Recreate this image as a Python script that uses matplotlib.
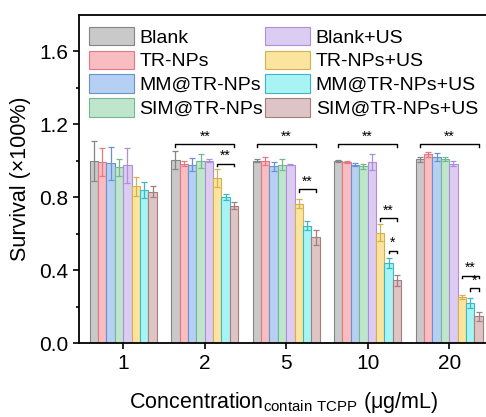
import matplotlib.pyplot as plt
import numpy as np

plt.rcParams['font.family'] = ['Liberation Sans', 'DejaVu Sans']

concs = ['1', '2', '5', '10', '20']
groups = ['Blank', 'TR-NPs', 'MM@TR-NPs', 'SIM@TR-NPs',
          'Blank+US', 'TR-NPs+US', 'MM@TR-NPs+US', 'SIM@TR-NPs+US']

blank = [1.00, 1.005, 1.00, 1.00, 1.008]
tr = [0.993, 0.985, 1.00, 0.995, 1.035]
mm = [0.986, 0.98, 0.97, 0.98, 1.02]
sim = [0.964, 1.00, 0.98, 0.97, 1.01]
blank_us = [0.975, 1.00, 0.98, 0.995, 0.985]
tr_us = [0.86, 0.907, 0.765, 0.607, 0.253]
mm_us = [0.84, 0.80, 0.645, 0.44, 0.222]
sim_us = [0.83, 0.755, 0.58, 0.344, 0.147]

blank_err = [0.11, 0.05, 0.008, 0.004, 0.013]
tr_err = [0.075, 0.015, 0.02, 0.005, 0.015]
mm_err = [0.09, 0.035, 0.025, 0.01, 0.022]
sim_err = [0.045, 0.04, 0.03, 0.013, 0.01]
blank_us_err = [0.095, 0.008, 0.005, 0.045, 0.012]
tr_us_err = [0.05, 0.05, 0.025, 0.045, 0.012]
mm_us_err = [0.045, 0.017, 0.025, 0.025, 0.028]
sim_us_err = [0.03, 0.02, 0.04, 0.03, 0.025]

values = [blank, tr, mm, sim, blank_us, tr_us, mm_us, sim_us]
errors = [blank_err, tr_err, mm_err, sim_err, blank_us_err, tr_us_err, mm_us_err, sim_us_err]

fills = ['#c9c9c9', '#f9bcc0', '#b6d0f3', '#bfe6cd', '#ddccf2', '#fbe59e', '#a8f4f4', '#dec4c4']
edges = ['#858585', '#e27a85', '#6a92d2', '#72b991', '#ad8fd8', '#d6b04e', '#3cb8c4', '#a67e7e']

# significance: (group index, first bar, last bar, y, label)
sig = [(1, 0, 7, 1.09, '**'), (1, 5, 7, 0.985, '**'),
       (2, 0, 7, 1.09, '**'), (2, 5, 7, 0.845, '**'),
       (3, 0, 7, 1.09, '**'), (3, 5, 7, 0.684, '**'), (3, 6, 7, 0.507, '*'),
       (4, 0, 7, 1.09, '**'), (4, 5, 7, 0.37, '**'), (4, 6, 7, 0.30, '*')]

fig = plt.figure(figsize=(4.86, 4.17), dpi=100)
ax = fig.add_axes([0.163, 0.177, 0.840, 0.787])

x = np.arange(len(concs))
w = 0.103
for i, name in enumerate(groups):
    pos = x + (i - 3.5) * w
    ax.bar(pos, values[i], w, color=fills[i], edgecolor=edges[i], linewidth=0.8, label=name)
    ax.errorbar(pos, values[i], yerr=errors[i], fmt='none', ecolor=edges[i],
                elinewidth=0.9, capsize=2.5, capthick=0.9)

for g, a, b, y, txt in sig:
    x1 = g + (a - 3.5) * w
    x2 = g + (b - 3.5) * w
    ax.plot([x1, x1, x2, x2], [y - 0.015, y, y, y - 0.015], color='black', lw=1)
    ax.text((x1 + x2) / 2, y + 0.003, txt, ha='center', va='bottom', fontsize=10)

ax.set_xlim(-0.54, 4.47)
ax.set_ylim(0, 1.8)
ax.set_xticks(x)
ax.set_xticklabels(concs)
ax.set_yticks([0.0, 0.4, 0.8, 1.2, 1.6])
ax.set_yticks(np.arange(0.2, 1.8, 0.4), minor=True)
ax.tick_params(labelsize=15, direction='out', length=4.5, width=1.2)
ax.tick_params(which='minor', length=2.5, width=1.2)
for s in ax.spines.values():
    s.set_linewidth(1.3)
ax.set_ylabel('Survival (×100%)', fontsize=15.5, labelpad=6)
ax.set_xlabel('Concentration$_{\\mathregular{contain\\ TCPP}}$ (μg/mL)', fontsize=15.5, labelpad=12)

ax.legend(ncol=2, loc='upper left', fontsize=14, frameon=False, handlelength=2.3,
          handleheight=1.1, labelspacing=0.2, columnspacing=0.1, handletextpad=0.3,
          borderaxespad=0.2, bbox_to_anchor=(-0.005, 1.0))

fig.savefig('out.png', dpi=100)
